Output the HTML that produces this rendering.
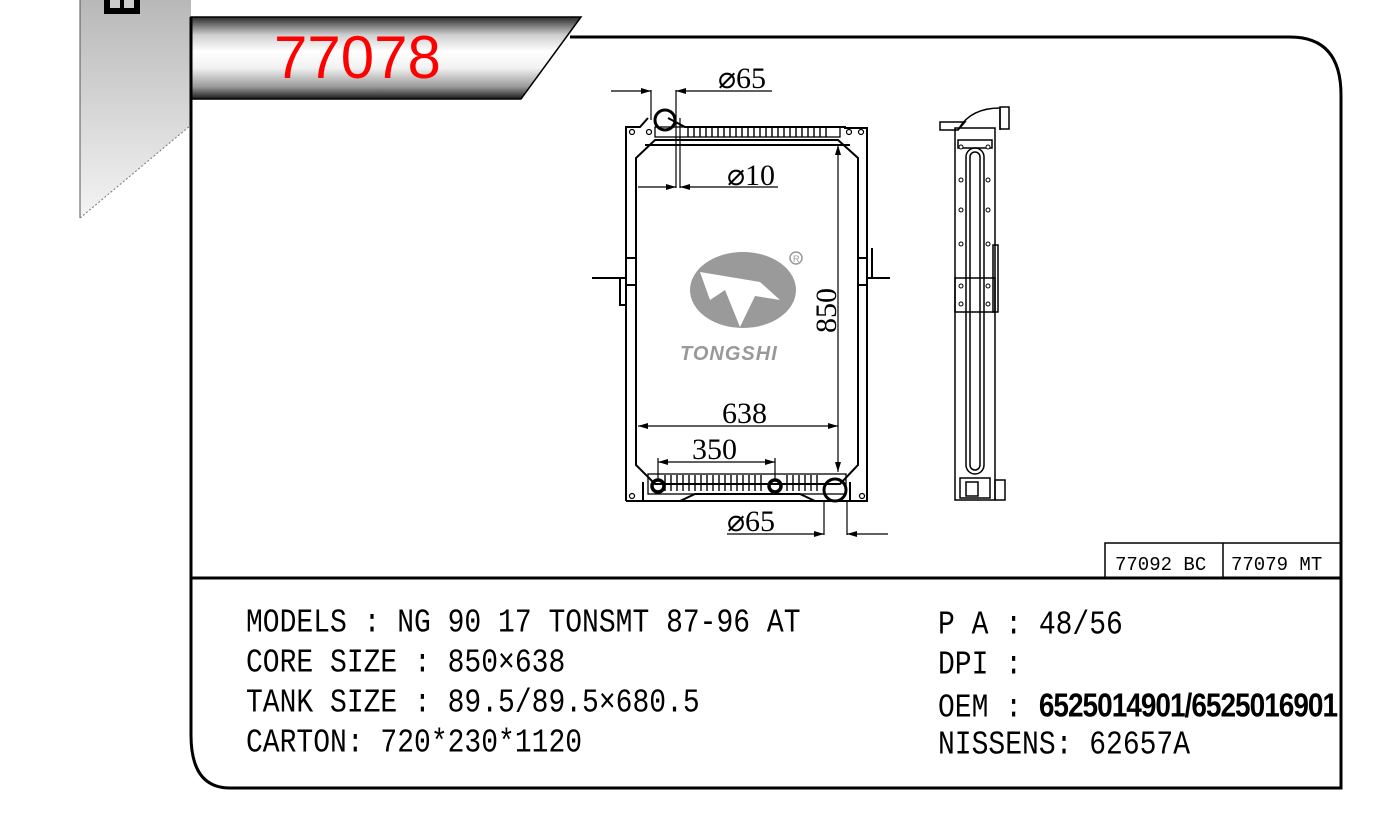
<!DOCTYPE html>
<html><head><meta charset="utf-8">
<style>
html,body{margin:0;padding:0;background:#fff;}
body{width:1399px;height:815px;position:relative;overflow:hidden;font-family:"Liberation Sans",sans-serif;}
.t{position:absolute;font-family:"Liberation Mono",monospace;font-size:28px;color:#000;white-space:pre;transform:scaleY(1.2);transform-origin:left bottom;line-height:1;}
.b{font-family:"Liberation Sans",sans-serif;font-weight:bold;letter-spacing:-1px;}
</style></head><body>
<svg width="1399" height="815" style="position:absolute;left:0;top:0" xmlns="http://www.w3.org/2000/svg">
<defs>
<linearGradient id="g1" x1="0" y1="0" x2="0" y2="1">
<stop offset="0" stop-color="#2a2a2a"/><stop offset="0.22" stop-color="#cfcfcf"/><stop offset="0.42" stop-color="#ffffff"/><stop offset="0.62" stop-color="#f2f2f2"/><stop offset="0.85" stop-color="#9a9a9a"/><stop offset="1" stop-color="#1a1a1a"/>
</linearGradient>
<linearGradient id="g2" x1="0" y1="0" x2="0" y2="1">
<stop offset="0" stop-color="#b8b8b8"/><stop offset="1" stop-color="#f4f4f4"/>
</linearGradient>
<marker id="ar" viewBox="0 0 10 6" refX="10" refY="3" markerWidth="10" markerHeight="6" orient="auto-start-reverse" markerUnits="userSpaceOnUse"><path d="M0,0L10,3L0,6z" fill="#000"/></marker>
</defs>
<polygon points="80,0 191,0 191,125 80,218" fill="url(#g2)"/>
<line x1="80" y1="0" x2="80" y2="218" stroke="#555" stroke-width="1"/>
<line x1="80" y1="218" x2="191" y2="125" stroke="#777" stroke-width="1" stroke-dasharray="2,2"/>
<rect x="104" y="0" width="36" height="14" fill="#000"/>
<rect x="110" y="0" width="10" height="8" fill="#ccc"/><rect x="124" y="0" width="10" height="8" fill="#ccc"/>
<polygon points="191,17 581,17 521,99 191,99" fill="url(#g1)" stroke="#000" stroke-width="1.5"/>
<path d="M191,17 L191,735 Q191,788 230,788 L1341,788 L1341,95 Q1341,37 1290,37 L570,37" fill="none" stroke="#000" stroke-width="3"/>
<line x1="191" y1="578" x2="1341" y2="578" stroke="#000" stroke-width="3"/>
<rect x="1105" y="543" width="236" height="35" fill="none" stroke="#000" stroke-width="1.5"/>
<line x1="1223" y1="543" x2="1223" y2="578" stroke="#000" stroke-width="1.5"/>
<text x="1115" y="570" font-family="Liberation Mono,monospace" font-size="19">77092 BC</text>
<text x="1231" y="570" font-family="Liberation Mono,monospace" font-size="19">77079 MT</text>

<g fill="none" stroke="#000" stroke-width="2">
<path d="M626,501 L626,127 L640,127 L648,118 M668,118 L685,127 L845,127 L845,128 L867,128 L867,501 L626,501"/>
<path d="M636,465 L636,158 L655,140 L838,140 L858,158 L858,465 L840,484 L655,484 Z"/>
<path d="M643,482 L643,501 M850,482 L850,501"/>
<line x1="645" y1="145" x2="850" y2="145"/>
<rect x="655" y="127" width="185" height="10" stroke-width="1.3"/>
<rect x="648" y="474" width="198" height="20" stroke-width="1.3"/>
<circle cx="665" cy="120" r="10" stroke-width="3"/>
<circle cx="835" cy="490" r="11" stroke-width="3"/>
<circle cx="658" cy="486" r="6" stroke-width="3.5"/>
<circle cx="775" cy="486" r="6" stroke-width="3.5"/>
<path d="M657,501 L680,501 L695,494 L800,494 L815,501"/>
<path d="M592,278 L626,278 M627,258 L637,258 M627,285 L637,285 M600,278 L620,278 L620,305 L626,305"/>
<path d="M867,278 L890,278 M857,258 L867,258 M857,285 L867,285 M872,248 L872,278"/>
</g>
<g stroke="#000" stroke-width="1.4">
<path d="M688,128 V137 M694,128 V137 M700,128 V137 M706,128 V137 M712,128 V137 M718,128 V137 M724,128 V137 M730,128 V137 M736,128 V137 M742,128 V137 M748,128 V137 M754,128 V137 M760,128 V137 M766,128 V137 M772,128 V137 M778,128 V137 M784,128 V137 M790,128 V137 M796,128 V137 M802,128 V137 M808,128 V137 M814,128 V137 M820,128 V137 M826,128 V137"/>
<path d="M665,475 V491 M671,475 V491 M677,475 V491 M683,475 V491 M689,475 V491 M695,475 V491 M701,475 V491 M707,475 V491 M713,475 V491 M719,475 V491 M725,475 V491 M731,475 V491 M737,475 V491 M743,475 V491 M749,475 V491 M755,475 V491 M761,475 V491 M787,475 V491 M793,475 V491 M799,475 V491 M805,475 V491 M811,475 V491 M817,475 V491"/>
</g>
<g fill="#fff" stroke="#000" stroke-width="1.2">
<circle cx="632" cy="132" r="2.5"/><circle cx="649" cy="132" r="2.5"/><circle cx="849" cy="132" r="2.5"/><circle cx="861" cy="132" r="2.5"/>
<circle cx="632" cy="496" r="2.5"/><circle cx="862" cy="496" r="2.5"/>
</g>
<g stroke="#000" stroke-width="1.2" fill="none">
<line x1="651" y1="90" x2="651" y2="120"/><line x1="676" y1="90" x2="676" y2="188"/><line x1="680" y1="118" x2="680" y2="188"/>
<line x1="611" y1="91" x2="651" y2="91" marker-end="url(#ar)"/>
<line x1="772" y1="91" x2="676" y2="91" marker-end="url(#ar)"/>
<line x1="638" y1="187" x2="676" y2="187" marker-end="url(#ar)"/>
<line x1="778" y1="187" x2="680" y2="187" marker-end="url(#ar)"/>
<line x1="838" y1="145" x2="838" y2="472" marker-start="url(#ar)" marker-end="url(#ar)"/>
<line x1="638" y1="426" x2="838" y2="426" marker-start="url(#ar)" marker-end="url(#ar)"/>
<line x1="658" y1="462" x2="775" y2="462" marker-start="url(#ar)" marker-end="url(#ar)"/>
<line x1="658" y1="458" x2="658" y2="480"/><line x1="775" y1="458" x2="775" y2="480"/>
<line x1="824" y1="500" x2="824" y2="535"/><line x1="847" y1="500" x2="847" y2="535"/>
<line x1="727" y1="534" x2="824" y2="534" marker-end="url(#ar)"/>
<line x1="888" y1="534" x2="847" y2="534" marker-end="url(#ar)"/>
</g>
<g font-family="Liberation Serif,serif" font-size="30" fill="#000">
<text x="718" y="88">⌀65</text>
<text x="727" y="185">⌀10</text>
<text x="722" y="423">638</text>
<text x="692" y="459">350</text>
<text x="727" y="531">⌀65</text>
<text transform="translate(836,333) rotate(-90)">850</text>
</g>
<ellipse cx="743" cy="290" rx="53" ry="38" fill="#9a9a9a"/>
<path d="M700,272 L760,282 L780,300 L755,296 L740,327 L725,290 L710,300 Z" fill="#fff"/>
<circle cx="796" cy="258" r="6" fill="none" stroke="#999" stroke-width="1.5"/>
<text x="793" y="262" font-size="9" fill="#999" font-family="Liberation Sans,sans-serif">R</text>
<text x="680" y="360" font-family="Liberation Sans,sans-serif" font-size="20" font-weight="bold" font-style="italic" fill="#999" letter-spacing="1">TONGSHI</text>

<g fill="none" stroke="#000" stroke-width="1.5">
<path d="M940,122 L965,122 L958,130 L940,130 Z"/>
<path d="M958,130 Q970,108 1000,108 L1000,130"/>
<rect x="1000" y="107" width="9" height="22"/>
<rect x="955" y="128" width="40" height="372"/>
<rect x="958" y="140" width="34" height="8"/>
<rect x="966" y="148" width="18" height="326" rx="9"/>
<rect x="970" y="152" width="10" height="318" rx="5"/>
<rect x="955" y="278" width="40" height="34"/>
<rect x="993" y="245" width="5" height="67"/>
<rect x="960" y="478" width="30" height="20"/>
<rect x="966" y="482" width="12" height="14"/>
<rect x="995" y="480" width="10" height="20"/>
</g>
<g fill="#fff" stroke="#000" stroke-width="1">
<circle cx="961" cy="147" r="2"/><circle cx="988" cy="147" r="2"/>
<circle cx="961" cy="180" r="2"/><circle cx="988" cy="180" r="2"/>
<circle cx="961" cy="210" r="2"/><circle cx="988" cy="210" r="2"/>
<circle cx="961" cy="244" r="2"/><circle cx="988" cy="244" r="2"/>
<circle cx="961" cy="286" r="2"/><circle cx="988" cy="286" r="2"/>
<circle cx="961" cy="304" r="2"/><circle cx="988" cy="304" r="2"/>
</g>
</svg>
<div style="position:absolute;left:274px;top:28px;font-family:'Liberation Sans',sans-serif;font-size:60px;color:#f00;line-height:1;">77078</div>

<div class="t" style="left:246px;top:613px;">MODELS : NG 90 17 TONSMT 87-96 AT</div>
<div class="t" style="left:246px;top:653px;">CORE SIZE : 850×638</div>
<div class="t" style="left:246px;top:693px;">TANK SIZE : 89.5/89.5×680.5</div>
<div class="t" style="left:246px;top:733px;">CARTON: 720*230*1120</div>
<div class="t" style="left:938px;top:615px;">P A : 48/56</div>
<div class="t" style="left:938px;top:655px;">DPI :</div>
<div class="t" style="left:938px;top:695px;">OEM : <span class="b" style="font-size:28px;">6525014901/6525016901</span></div>
<div class="t" style="left:938px;top:735px;">NISSENS: 62657A</div>
</body></html>
